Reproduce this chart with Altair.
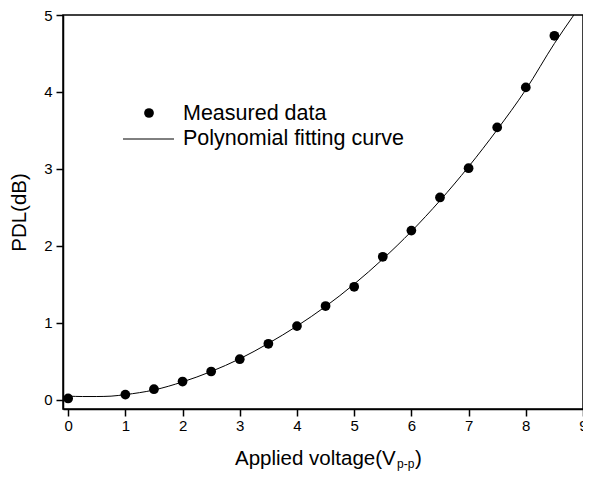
import altair as alt
import pandas as pd

# Measured data points
volt = [0, 1, 1.5, 2, 2.5, 3, 3.5, 4, 4.5, 5, 5.5, 6, 6.5, 7, 7.5, 8, 8.5]
pdl = [0.02, 0.07, 0.14, 0.24, 0.37, 0.53, 0.73, 0.96, 1.22, 1.47, 1.86, 2.20, 2.63, 3.01, 3.54, 4.06, 4.73]

# Polynomial fitting curve
fit_v = [0, 0.25, 0.5, 0.75, 1, 1.5, 2, 2.5, 3, 3.5, 4, 4.5, 5, 5.5, 6, 6.5, 7, 7.5, 8, 8.5, 8.84]
fit_pdl = [0.05, 0.045, 0.045, 0.05, 0.07, 0.13, 0.235, 0.37, 0.535, 0.735, 0.96, 1.215, 1.505,
           1.83, 2.19, 2.59, 3.03, 3.51, 4.03, 4.63, 5.0]

x_ticks = [0, 0.5, 1, 1.5, 2, 2.5, 3, 3.5, 4, 4.5, 5, 5.5, 6, 6.5, 7, 7.5, 8, 8.5, 9]
y_ticks = [0, 0.5, 1, 1.5, 2, 2.5, 3, 3.5, 4, 4.5, 5]

legend_labels = ["Measured data", "Polynomial fitting curve"]

FONT = "Liberation Sans"

meas = pd.DataFrame({"v": volt, "pdl": pdl})
fit = pd.DataFrame({"v": fit_v, "pdl": fit_pdl})
one = pd.DataFrame({"a": [0]})

xscale = alt.Scale(domain=[-0.09, 9], nice=False, zero=False)
yscale = alt.Scale(domain=[-0.117, 5], nice=False, zero=False)

major_test = "abs(datum.value - round(datum.value)) < 0.001"

xaxis = alt.Axis(
    values=x_ticks, title=None, grid=False, format=".0f",
    labelExpr=f"{major_test} ? datum.label : ''",
    tickSize={"condition": {"test": major_test, "value": 7}, "value": 4},
    labelFont=FONT, labelFontSize=15, labelColor="black", labelPadding=2,
    labelFlush=False, labelOverlap=False,
    tickColor="black", tickWidth=1.5, domainColor="black", domainWidth=1.5,
)
yaxis = alt.Axis(
    values=y_ticks, title="PDL(dB)", grid=False, format=".0f",
    labelExpr=f"{major_test} ? datum.label : ''",
    tickSize={"condition": {"test": major_test, "value": 7}, "value": 4},
    labelFont=FONT, labelFontSize=15, labelColor="black", labelPadding=4,
    labelFlush=False, labelOverlap=False,
    tickColor="black", tickWidth=1.5, domainColor="black", domainWidth=1.5,
    titleFont=FONT, titleFontSize=20.5, titleFontWeight="normal", titleColor="black",
    titlePadding=14,
)

curve = alt.Chart(fit).mark_line(
    color="black", strokeWidth=1, interpolate="monotone", clip=True
).encode(
    x=alt.X("v:Q", scale=xscale, axis=xaxis),
    y=alt.Y("pdl:Q", scale=yscale, axis=yaxis),
)

points = alt.Chart(meas).mark_circle(color="black", size=95, opacity=1).encode(
    x=alt.X("v:Q", scale=xscale),
    y=alt.Y("pdl:Q", scale=yscale),
)

leg = alt.Chart(one)
leg_dot = leg.mark_circle(color="black", size=95, opacity=1).encode(
    x=alt.value(86), y=alt.value(98)
)
leg_line = leg.mark_rule(color="black", strokeWidth=1).encode(
    x=alt.value(60), x2=alt.value(111), y=alt.value(124)
)
leg_t1 = leg.mark_text(text=legend_labels[0], align="left", baseline="alphabetic",
                       font=FONT, fontSize=21.5, color="black").encode(
    x=alt.value(120), y=alt.value(105))
leg_t2 = leg.mark_text(text=legend_labels[1], align="left", baseline="alphabetic",
                       font=FONT, fontSize=21.5, color="black").encode(
    x=alt.value(120), y=alt.value(130))

# x-axis title with subscript
xt_main = leg.mark_text(text="Applied voltage(V", align="left", baseline="alphabetic",
                        font=FONT, fontSize=20.5, color="black").encode(
    x=alt.value(172), y=alt.value(450))
xt_sub = leg.mark_text(text="p-p", align="left", baseline="alphabetic",
                       font=FONT, fontSize=12, color="black").encode(
    x=alt.value(334), y=alt.value(453))
xt_close = leg.mark_text(text=")", align="left", baseline="alphabetic",
                         font=FONT, fontSize=20.5, color="black").encode(
    x=alt.value(352), y=alt.value(450))

chart = alt.layer(
    curve, points, leg_dot, leg_line, leg_t1, leg_t2, xt_main, xt_sub, xt_close
).properties(
    width=520, height=394,
    autosize=alt.AutoSizeParams(type="none"),
    padding={"left": 55, "top": 7, "right": 0, "bottom": 62},
).configure_view(stroke="black", strokeWidth=1.5)

chart.save("out.html", embed_options={"renderer": "svg", "actions": False})
